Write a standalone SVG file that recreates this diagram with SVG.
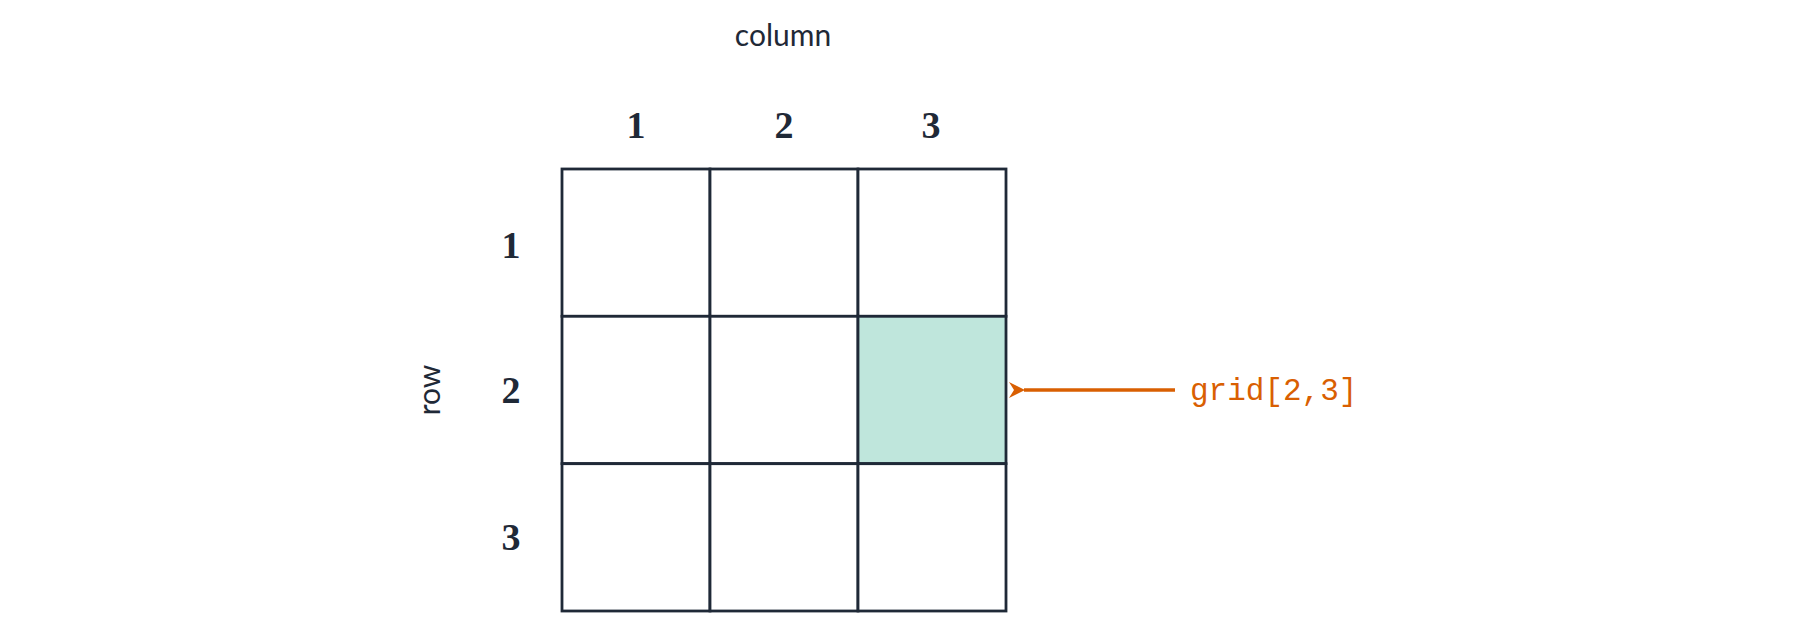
<svg xmlns="http://www.w3.org/2000/svg" width="1800" height="621" viewBox="0 0 1800 621">
<style>
.s{font-family:Lato,"Liberation Sans",sans-serif;font-size:30px;fill:#1f2937;text-anchor:middle}
.n{font-family:"Liberation Serif",serif;font-weight:bold;font-size:38px;fill:#1f2937;text-anchor:middle}
.c{fill:#fff;stroke:#1f2937;stroke-width:2.8}
</style>
<defs><marker id="ah" markerWidth="20" markerHeight="20" refX="1" refY="8" orient="auto" markerUnits="userSpaceOnUse"><path d="M16,0 L0,8 L16,16 L11,8 Z" fill="#d95f02"/></marker></defs>
<rect width="1800" height="621" fill="#fff"/>
<text class="s" x="783" y="46">column</text>
<text class="s" transform="translate(440,390) rotate(-90)">row</text>
<g id="colnums"><text class="n" x="636" y="138">1</text><text class="n" x="784" y="138">2</text><text class="n" x="931" y="138">3</text></g>
<g id="rownums"><text class="n" x="511" y="258">1</text><text class="n" x="511" y="403">2</text><text class="n" x="511" y="550">3</text></g>
<g id="grid">
<rect class="c" x="562" y="169" width="148" height="147.3"/>
<rect class="c" x="710" y="169" width="148" height="147.3"/>
<rect class="c" x="858" y="169" width="148" height="147.3"/>
<rect class="c" x="562" y="316.3" width="148" height="147.3"/>
<rect class="c" x="710" y="316.3" width="148" height="147.3"/>
<rect id="target" class="c" x="858" y="316.3" width="148" height="147.3" style="fill:#bfe6dc"/>
<rect class="c" x="562" y="463.7" width="148" height="147.3"/>
<rect class="c" x="710" y="463.7" width="148" height="147.3"/>
<rect class="c" x="858" y="463.7" width="148" height="147.3"/>
</g>
<g id="connectors"><line x1="1175" y1="390" x2="1024" y2="390" stroke="#d95f02" stroke-width="3.5" marker-end="url(#ah)"/></g>
<g id="label"><text x="1190" y="400" font-family="Liberation Mono,monospace" font-size="31" fill="#d95f02">grid[2,3]</text></g>
</svg>
